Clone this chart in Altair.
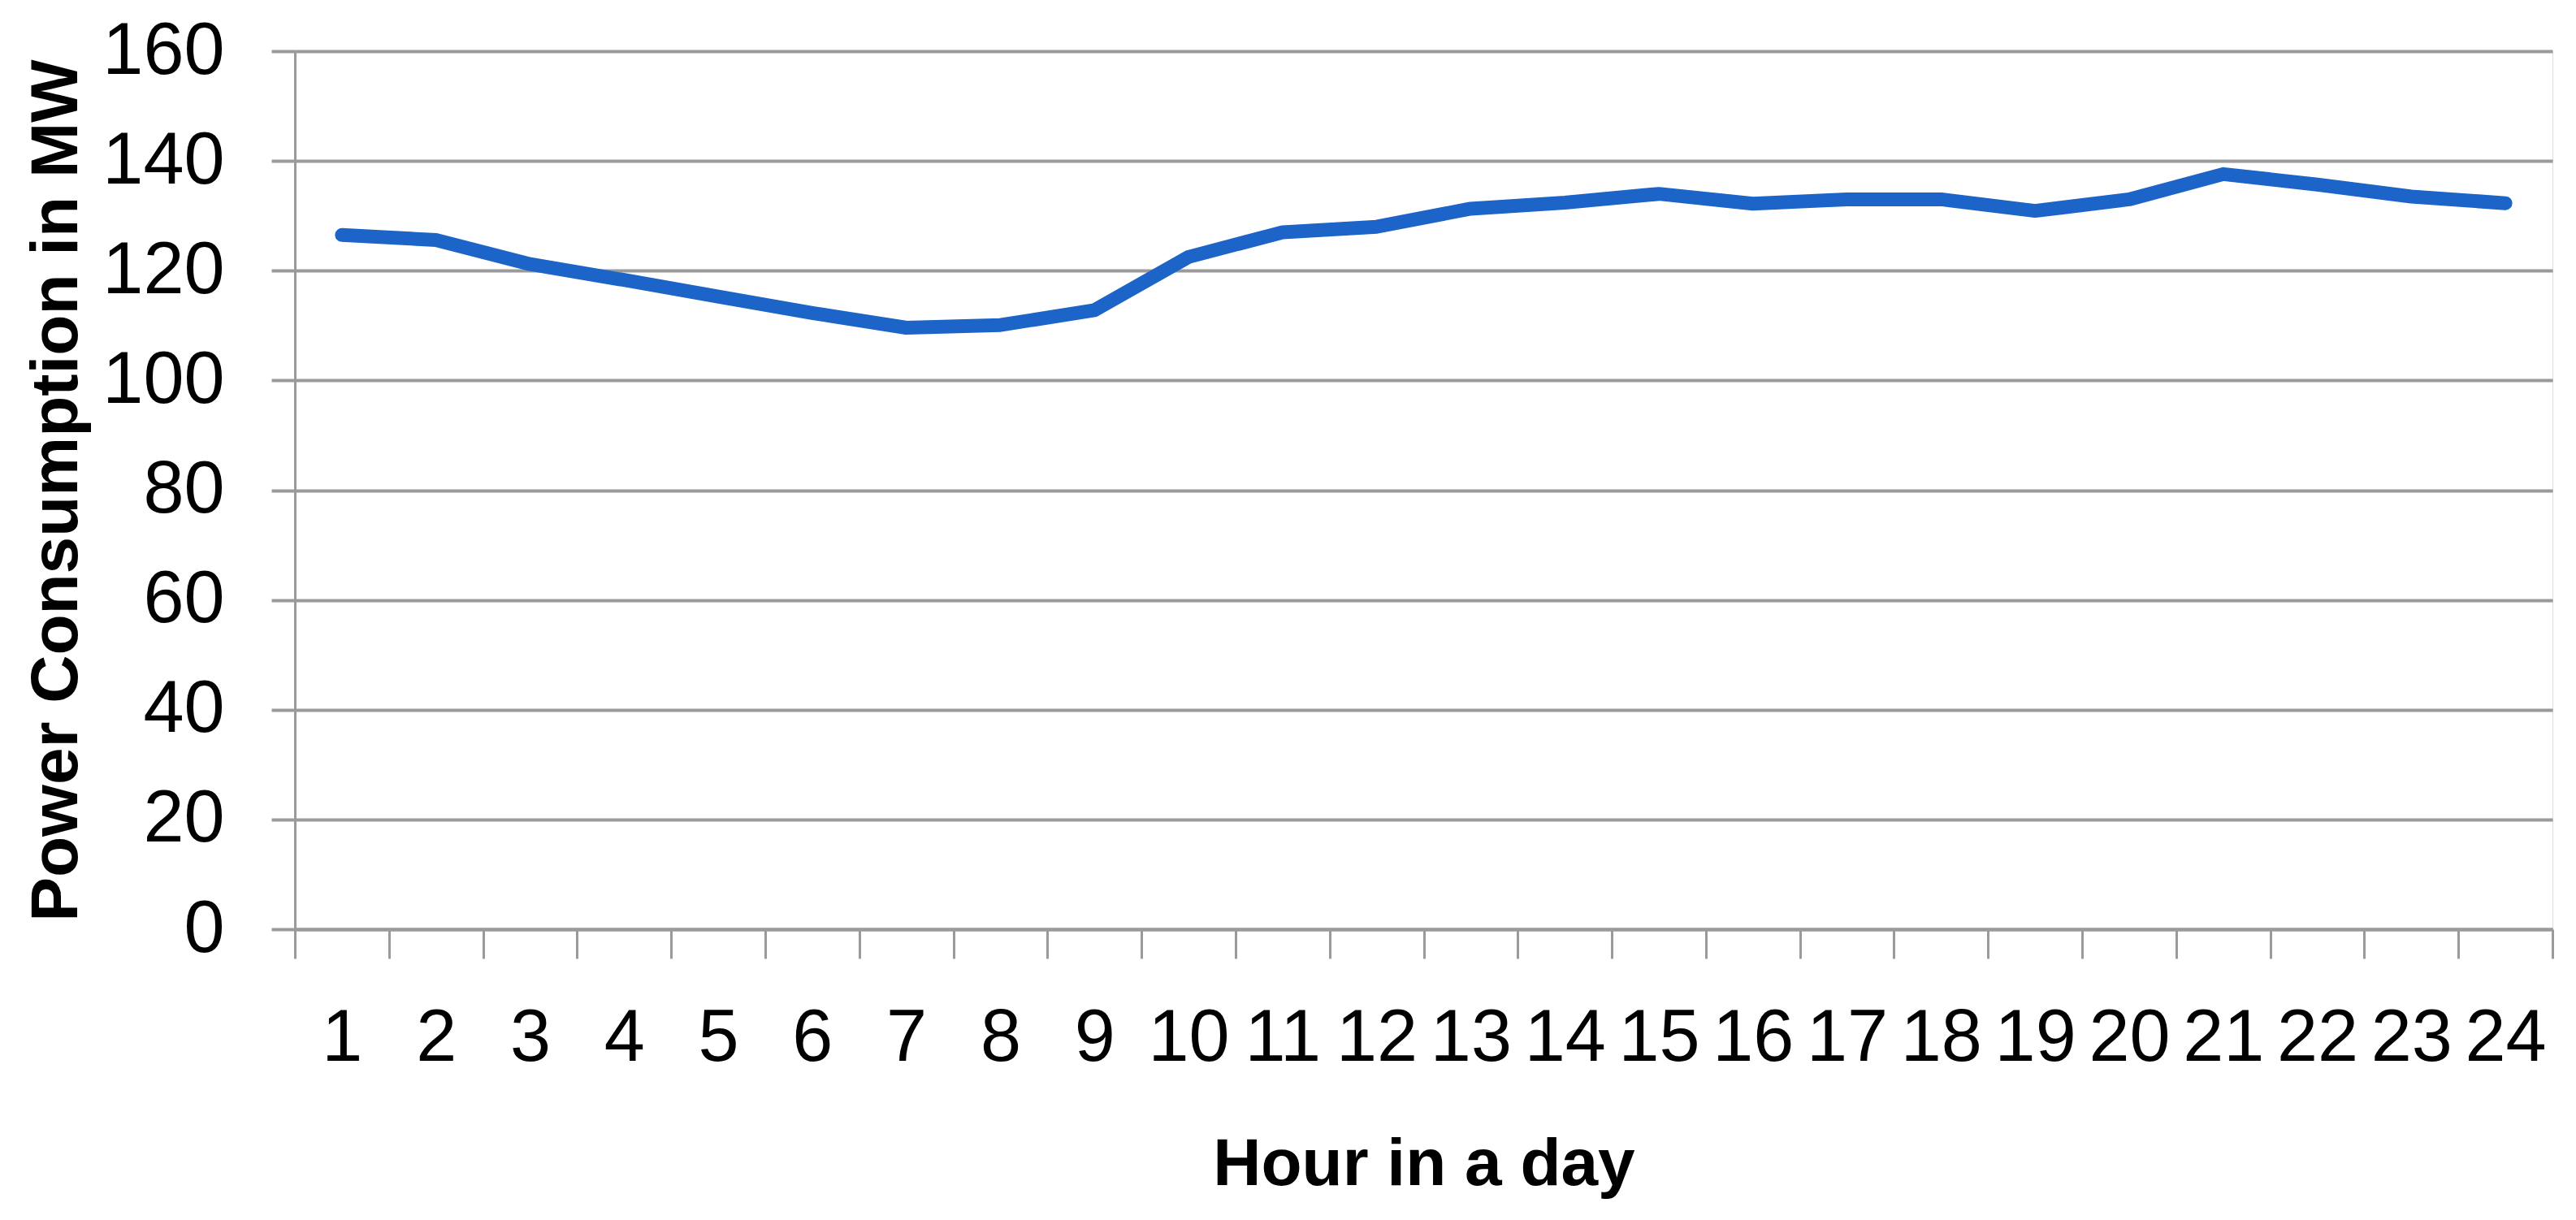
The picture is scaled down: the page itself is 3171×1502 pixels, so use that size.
import altair as alt
import pandas as pd

hours = list(range(1, 25))
power = [126.5, 125.6, 121.2, 118.3, 115.3, 112.3, 109.6, 110.1, 112.8, 122.5,
         127.0, 128.0, 131.3, 132.4, 134.0, 132.2, 133.0, 133.0, 130.9, 133.0,
         137.6, 135.7, 133.5, 132.3]
y_ticks = [0, 20, 40, 60, 80, 100, 120, 140, 160]

df = pd.DataFrame({"hour": hours, "power": power})

GRID = "#9a9a9a"
FONT = "Liberation Sans"

chart = alt.Chart(df).mark_line(
    color="#1C64C8", strokeWidth=17, strokeCap="round", strokeJoin="round"
).encode(
    x=alt.X(
        "hour:O",
        bandPosition=0.5,
        scale=alt.Scale(type="band", paddingInner=0, paddingOuter=0),
        axis=alt.Axis(
            title="Hour in a day",
            labelAngle=0,
            tickBand="extent",
            tickSize=36,
            tickColor=GRID,
            tickWidth=3,
            domainColor=GRID,
            domainWidth=4,
            labelFont=FONT,
            labelFontSize=90,
            labelColor="#000000",
            labelPadding=54,
            titleFont=FONT,
            titleFontWeight="bold",
            titleFontSize=82,
            titleColor="#000000",
            titlePadding=70,
            grid=False,
        ),
    ),
    y=alt.Y(
        "power:Q",
        scale=alt.Scale(domain=[0, 160], nice=False),
        axis=alt.Axis(
            title="Power Consumption in MW",
            values=y_ticks,
            tickSize=29,
            tickColor=GRID,
            tickWidth=4,
            domainColor=GRID,
            domainWidth=3,
            gridColor=GRID,
            gridWidth=4,
            labelFont=FONT,
            labelFontSize=90,
            labelColor="#000000",
            labelPadding=58,
            titleFont=FONT,
            titleFontWeight="bold",
            titleFontSize=82,
            titleColor="#000000",
            titlePadding=52,
        ),
    ),
).properties(
    width=2779,
    height=1081,
    padding={"left": 19, "top": 10, "right": 5, "bottom": 5},
).configure_view(stroke=None).configure(background="white")

chart.save("out.html", embed_options={"renderer": "svg", "actions": False})
